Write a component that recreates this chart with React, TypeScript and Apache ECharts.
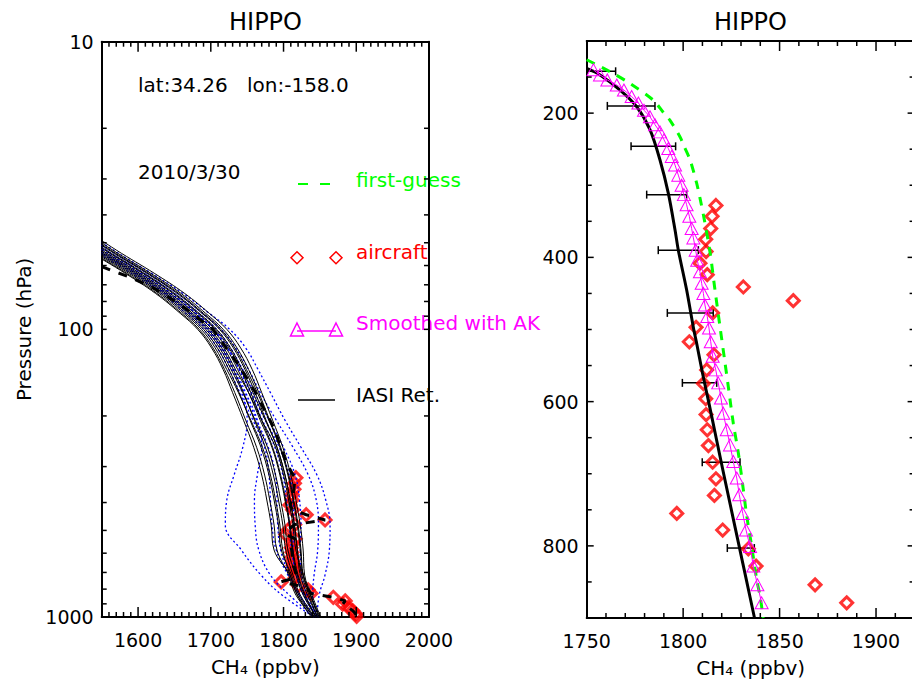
import React, { useEffect, useRef } from 'react';
import * as echarts from 'echarts';

const FONT = 'DejaVu Sans';

// ---------- Left panel: pressure levels for the profile bundle ----------
const levelsL = [45, 53, 64, 75, 88, 100, 116, 138, 166, 207, 257, 321, 392, 479, 585, 715, 839, 1000];

// IASI retrieved profiles (thin black solid)
const iasi01 = [1518, 1560, 1613, 1654, 1688, 1712, 1731, 1747, 1761, 1776, 1791, 1802, 1809, 1815, 1819, 1825, 1835, 1846];
const iasi02 = [1512, 1554, 1607, 1648, 1682, 1706, 1725, 1741, 1755, 1770, 1785, 1796, 1803, 1809, 1813, 1820, 1830, 1844];
const iasi03 = [1502, 1544, 1597, 1638, 1672, 1696, 1715, 1731, 1745, 1760, 1775, 1786, 1793, 1799, 1803, 1813, 1823, 1843];
const iasi04 = [1496, 1538, 1591, 1632, 1666, 1690, 1709, 1725, 1739, 1754, 1769, 1780, 1787, 1793, 1797, 1811, 1821, 1842];
const iasi05 = [1490, 1532, 1585, 1626, 1660, 1684, 1703, 1719, 1733, 1748, 1763, 1774, 1781, 1787, 1791, 1807, 1817, 1840];
const iasi06 = [1508, 1550, 1603, 1644, 1678, 1702, 1721, 1737, 1752, 1768, 1784, 1795, 1802, 1808, 1812, 1819, 1829, 1845];
const iasi07 = [1523, 1565, 1618, 1659, 1693, 1717, 1736, 1752, 1766, 1781, 1796, 1807, 1814, 1820, 1824, 1827, 1837, 1848];
const iasi08 = [1505, 1547, 1600, 1641, 1675, 1699, 1718, 1734, 1752, 1770, 1789, 1800, 1807, 1813, 1817, 1827, 1837, 1850];
const iasi09 = [1499, 1541, 1594, 1635, 1669, 1693, 1712, 1728, 1744, 1761, 1778, 1789, 1796, 1802, 1806, 1817, 1827, 1845];
const iasi10 = [1514, 1556, 1609, 1650, 1684, 1708, 1727, 1743, 1758, 1775, 1791, 1802, 1809, 1815, 1819, 1823, 1833, 1847];
const iasi11 = [1493, 1535, 1588, 1629, 1663, 1687, 1706, 1722, 1738, 1755, 1771, 1782, 1789, 1795, 1799, 1809, 1819, 1838];
const iasi12 = [1520, 1562, 1615, 1656, 1690, 1714, 1733, 1749, 1764, 1780, 1795, 1806, 1813, 1819, 1823, 1827, 1837, 1849];
const iasi13 = [1488, 1530, 1583, 1624, 1658, 1682, 1701, 1717, 1730, 1745, 1759, 1770, 1777, 1783, 1787, 1809, 1819, 1842];
const iasi14 = [1528, 1570, 1623, 1664, 1698, 1722, 1741, 1757, 1770, 1785, 1799, 1810, 1817, 1823, 1827, 1829, 1839, 1851];

// first-guess profiles (blue dotted)
const fg01 = [1500, 1542, 1595, 1636, 1670, 1694, 1713, 1729, 1743, 1750, 1744, 1732, 1722, 1720, 1742, 1769, 1798, 1842];
const fg02 = [1504, 1546, 1599, 1640, 1674, 1698, 1717, 1733, 1748, 1764, 1770, 1764, 1760, 1761, 1766, 1782, 1808, 1842];
const fg03 = [1496, 1538, 1591, 1632, 1666, 1690, 1709, 1725, 1740, 1758, 1774, 1780, 1782, 1784, 1790, 1806, 1822, 1844];
const fg04 = [1510, 1552, 1605, 1646, 1680, 1704, 1723, 1739, 1754, 1771, 1788, 1799, 1804, 1808, 1811, 1818, 1828, 1845];
const fg05 = [1514, 1556, 1609, 1650, 1684, 1708, 1727, 1744, 1760, 1780, 1800, 1816, 1822, 1824, 1823, 1825, 1832, 1846];
const fg06 = [1518, 1560, 1613, 1654, 1689, 1714, 1734, 1752, 1768, 1790, 1813, 1834, 1845, 1848, 1847, 1842, 1840, 1846];
const fg07 = [1524, 1566, 1619, 1662, 1698, 1726, 1748, 1765, 1782, 1802, 1824, 1846, 1858, 1864, 1863, 1857, 1849, 1846];
const fg08 = [1502, 1544, 1597, 1638, 1672, 1696, 1715, 1731, 1746, 1763, 1779, 1789, 1791, 1792, 1796, 1808, 1822, 1840];
const fg09 = [1508, 1550, 1603, 1644, 1679, 1703, 1723, 1740, 1756, 1775, 1794, 1808, 1813, 1814, 1813, 1818, 1828, 1848];

// a-priori upper part of the thick dashed reference profile
const dashP = [60.5, 63, 66, 72, 82, 100, 135, 165, 218, 292, 320];
const dashV = [1550, 1568, 1590, 1622, 1658, 1703, 1740, 1761, 1786, 1804, 1813];

// aircraft (HIPPO) CH4
const airP = [328, 343, 360, 375, 392, 408, 424, 441, 460, 477, 497, 517, 535, 556, 575, 596, 618, 639, 661, 684, 707, 730, 755, 778, 804, 828, 854, 879, 903, 925, 950, 975, 995];
const airV = [1817, 1815, 1814.3, 1811.7, 1811.9, 1808.7, 1812.5, 1831.2, 1857.1, 1815.3, 1806.7, 1803.2, 1816, 1812.2, 1810.5, 1811.7, 1811.9, 1812.5, 1813.1, 1815.3, 1817, 1816.2, 1796.7, 1820.5, 1833.8, 1837.8, 1868.4, 1884.8, 1881.3, 1889, 1895, 1899, 1900.5];

// ---------- Right panel ----------
const fgP = [126, 145, 159, 182, 200, 210, 233, 246, 265, 297, 320, 348, 394, 445, 496, 546, 579, 630, 671, 722, 759, 800, 846, 870, 900];
const fgV = [1750, 1763.8, 1772.5, 1784.5, 1790, 1793.2, 1798.4, 1800.5, 1803.6, 1807, 1808.9, 1811, 1814, 1816.5, 1819.1, 1821.7, 1823.4, 1826, 1828.6, 1831.2, 1833, 1835.5, 1838.1, 1839.9, 1841.5];

const retP = [138, 147, 168, 191, 223, 265, 311, 362, 390, 445, 500, 519, 560, 600, 650, 700, 750, 800, 850, 900];
const retV = [1750, 1756.9, 1767.3, 1775.9, 1782.8, 1788, 1792.3, 1795.8, 1797.5, 1801.8, 1805.5, 1807, 1810, 1813.2, 1817.1, 1821, 1825, 1829, 1833, 1837];

const akP = [140, 147, 154, 161, 168, 177, 186, 196, 205, 216, 226, 237, 249, 260, 272, 286, 300, 313, 327, 343, 360, 373, 390, 404, 420, 436, 450, 466, 482, 498, 517, 537, 556, 574, 595, 616, 639, 660, 683, 706, 729, 755, 778, 801, 828, 854, 879];
const akV = [1753.5, 1756.9, 1760.7, 1765.6, 1769.3, 1773.3, 1776.8, 1779.7, 1782.8, 1785.4, 1788, 1790.1, 1792.3, 1794.1, 1795.8, 1797.5, 1799.2, 1800.4, 1801.8, 1803.2, 1804.4, 1805.3, 1806.5, 1807.3, 1808.7, 1809.6, 1810.5, 1811.3, 1812.5, 1813.4, 1814.3, 1815.3, 1816.9, 1818.2, 1819.6, 1820.8, 1822.6, 1824.3, 1826, 1827.8, 1829.1, 1830.9, 1832.6, 1834.7, 1836.4, 1838.5, 1840.7];

const errP = [142, 190, 246, 313, 390, 477, 574, 684, 803];
const errLo = [1735, 1760.7, 1773, 1781.1, 1787.1, 1791.8, 1799.6, 1809.9, 1822.9];
const errHi = [1765, 1785.4, 1796.1, 1801.8, 1807.9, 1815.6, 1817.4, 1829.5, 1836.9];

// axis ranges
const L_XMIN = 1550, L_XMAX = 2000, L_YMIN = 10, L_YMAX = 1000;
const R_XMIN = 1750, R_XMAX = 1920, R_YMIN = 100, R_YMAX = 900;

const pairs = (v: number[], p: number[]) => v.map((x, i) => [x, p[i]]);

function buildTicks() {
  const left: number[][] = [];
  for (let v = L_XMIN + 10; v < L_XMAX; v += 10) {
    const len = v % 100 === 0 ? 10 : 5;
    left.push([v, L_YMAX, len, 0]);
    left.push([v, L_YMIN, len, 1]);
  }
  for (const dec of [10, 100]) {
    for (let k = 1; k <= 9; k++) {
      const v = dec * k;
      if (v === 10) continue;
      left.push([L_XMIN, v, 5, 2]);
      left.push([L_XMAX, v, 5, 3]);
    }
  }
  const right: number[][] = [];
  for (let v = R_XMIN + 10; v <= R_XMAX; v += 10) {
    const len = v % 50 === 0 ? 10 : 5;
    right.push([v, R_YMAX, len, 0]);
    right.push([v, R_YMIN, len, 1]);
  }
  for (let v = R_YMIN + 50; v < R_YMAX; v += 50) {
    const len = v % 200 === 0 ? 7 : 5;
    right.push([R_XMIN, v, len, 2]);
    right.push([R_XMAX, v, len, 3]);
  }
  return { left, right };
}

function tickRender(_params: any, api: any) {
  const pt = api.coord([api.value(0), api.value(1)]);
  const len = api.value(2);
  const dir = api.value(3);
  let dx = 0, dy = 0;
  if (dir === 0) dy = -len;
  else if (dir === 1) dy = len;
  else if (dir === 2) dx = len;
  else dx = -len;
  return {
    type: 'line',
    shape: { x1: pt[0], y1: pt[1], x2: pt[0] + dx, y2: pt[1] + dy },
    style: { stroke: '#000', lineWidth: 1.5 },
  };
}

function errRender(_params: any, api: any) {
  const p = api.value(2);
  const a = api.coord([api.value(0), p]);
  const b = api.coord([api.value(1), p]);
  const h = 4;
  const st = { stroke: '#000', lineWidth: 1.5 };
  return {
    type: 'group',
    children: [
      { type: 'line', shape: { x1: a[0], y1: a[1], x2: b[0], y2: b[1] }, style: st },
      { type: 'line', shape: { x1: a[0], y1: a[1] - h, x2: a[0], y2: a[1] + h }, style: st },
      { type: 'line', shape: { x1: b[0], y1: b[1] - h, x2: b[0], y2: b[1] + h }, style: st },
    ],
  };
}

export default function App() {
  const ref = useRef<HTMLDivElement>(null);
  useEffect(() => {
    const chart = echarts.init(ref.current!, null, { renderer: 'svg' });
    const ticks = buildTicks();
    const axisLine = { show: true, onZero: false, lineStyle: { color: '#000', width: 2 } };
    const lbl = { color: '#000', fontSize: 19, fontFamily: FONT };
    const nameStyle = { color: '#000', fontSize: 20, fontFamily: FONT };

    const iasiSets = [iasi01, iasi02, iasi03, iasi04, iasi05, iasi06, iasi07, iasi08, iasi09, iasi10, iasi11, iasi12, iasi13, iasi14];
    const fgSets = [fg01, fg02, fg03, fg04, fg05, fg06, fg07, fg08, fg09];

    const series: any[] = [];
    fgSets.forEach((arr) => {
      series.push({
        type: 'line', xAxisIndex: 0, yAxisIndex: 0, data: pairs(arr, levelsL),
        showSymbol: false, smooth: 0.4, lineStyle: { color: '#0000ff', width: 1.3, type: [2, 2.5] },
        silent: true,
      });
    });
    iasiSets.forEach((arr) => {
      series.push({
        type: 'line', xAxisIndex: 0, yAxisIndex: 0, data: pairs(arr, levelsL),
        showSymbol: false, smooth: 0.4, lineStyle: { color: '#000', width: 1 }, silent: true,
      });
    });
    series.push({
      type: 'scatter', xAxisIndex: 0, yAxisIndex: 0, data: pairs(airV, airP),
      symbol: 'diamond', symbolSize: 12,
      itemStyle: { color: 'rgba(0,0,0,0)', borderColor: '#ff0000', borderWidth: 3 }, silent: true,
    });
    series.push({
      type: 'line', xAxisIndex: 0, yAxisIndex: 0,
      data: pairs(dashV, dashP).concat(pairs(airV, airP)),
      showSymbol: false, lineStyle: { color: '#000', width: 3, type: [9, 9] }, silent: true,
    });
    series.push({
      type: 'custom', xAxisIndex: 0, yAxisIndex: 0, data: ticks.left, renderItem: tickRender,
      clip: false, silent: true, z: 10,
    });

    // right panel
    series.push({
      type: 'line', xAxisIndex: 2, yAxisIndex: 2, data: pairs(fgV, fgP), showSymbol: false,
      smooth: 0.3, lineStyle: { color: '#00ff00', width: 3, type: [9, 8] }, silent: true,
    });
    series.push({
      type: 'line', xAxisIndex: 2, yAxisIndex: 2, data: pairs(retV, retP), showSymbol: false,
      smooth: 0.3, lineStyle: { color: '#000', width: 3 }, silent: true,
    });
    series.push({
      type: 'line', xAxisIndex: 2, yAxisIndex: 2, data: pairs(akV, akP),
      symbol: 'triangle', symbolSize: [13, 12], showSymbol: true,
      itemStyle: { color: 'rgba(0,0,0,0)', borderColor: '#ff00ff', borderWidth: 1 },
      lineStyle: { color: '#ff00ff', width: 1 }, silent: true,
    });
    series.push({
      type: 'custom', xAxisIndex: 2, yAxisIndex: 2,
      data: errLo.map((lo, i) => [lo, errHi[i], errP[i]]),
      encode: { x: [0, 1], y: 2 }, renderItem: errRender, clip: true, silent: true,
    });
    series.push({
      type: 'scatter', xAxisIndex: 2, yAxisIndex: 2, data: pairs(airV, airP),
      symbol: 'diamond', symbolSize: 12,
      itemStyle: { color: 'rgba(0,0,0,0)', borderColor: '#ff0000', borderWidth: 3 }, silent: true,
    });
    series.push({
      type: 'custom', xAxisIndex: 2, yAxisIndex: 2, data: ticks.right, renderItem: tickRender,
      clip: false, silent: true, z: 10,
    });

    const txt = (text: string, x: number, y: number, color: string, size = 20, align = 'left') => ({
      type: 'text', x, y, silent: true,
      style: { text, fill: color, fontSize: size, fontFamily: FONT, align, verticalAlign: 'middle' },
    });
    const diamond = (cx: number, cy: number) => ({
      type: 'polygon', silent: true,
      shape: { points: [[cx, cy - 6], [cx + 6, cy], [cx, cy + 6], [cx - 6, cy]] },
      style: { fill: 'none', stroke: '#ff0000', lineWidth: 1.5 },
    });
    const tri = (cx: number) => ({
      type: 'polygon', silent: true,
      shape: { points: [[cx, 323], [cx + 6.5, 336], [cx - 6.5, 336]] },
      style: { fill: 'none', stroke: '#ff00ff', lineWidth: 1.5 },
    });

    const graphic = [
      txt('HIPPO', 265.5, 22, '#000', 24, 'center'),
      txt('HIPPO', 750.5, 22, '#000', 24, 'center'),
      txt('lat:34.26', 138, 85, '#000'),
      txt('lon:-158.0', 247, 85, '#000'),
      txt('2010/3/30', 138, 172, '#000'),
      { type: 'line', silent: true, shape: { x1: 298, y1: 184, x2: 308, y2: 184 }, style: { stroke: '#00ff00', lineWidth: 2 } },
      { type: 'line', silent: true, shape: { x1: 320, y1: 184, x2: 330, y2: 184 }, style: { stroke: '#00ff00', lineWidth: 2 } },
      txt('first-guess', 356, 180, '#00ff00'),
      diamond(297, 257.7),
      diamond(336, 257.7),
      txt('aircraft', 356, 252, '#ff0000'),
      { type: 'line', silent: true, shape: { x1: 297, y1: 331, x2: 336, y2: 331 }, style: { stroke: '#ff00ff', lineWidth: 1.5 } },
      tri(297),
      tri(336),
      txt('Smoothed with AK', 356, 323, '#ff00ff'),
      { type: 'line', silent: true, shape: { x1: 298, y1: 400, x2: 335, y2: 400 }, style: { stroke: '#000', lineWidth: 1.5 } },
      txt('IASI Ret.', 356, 395, '#000'),
    ];

    const option: any = {
      animation: false,
      backgroundColor: '#fff',
      grid: [
        { left: 101.7, top: 41.7, width: 327.3, height: 575.3, containLabel: false, outerBoundsMode: 'none' },
        { left: 586.7, top: 41, width: 327.9, height: 577, containLabel: false, outerBoundsMode: 'none' },
      ],
      xAxis: [
        {
          gridIndex: 0, type: 'value', position: 'bottom', min: L_XMIN, max: L_XMAX, interval: 50,
          axisLine, axisTick: { show: false }, splitLine: { show: false },
          axisLabel: { ...lbl, margin: 13, formatter: (v: number) => (v % 100 === 0 ? String(v) : '') },
          name: 'CH₄ (ppbv)', nameLocation: 'middle', nameGap: 40, nameTextStyle: nameStyle,
        },
        {
          gridIndex: 0, type: 'value', position: 'top', min: L_XMIN, max: L_XMAX, interval: 50,
          axisLine, axisTick: { show: false }, splitLine: { show: false }, axisLabel: { show: false },
        },
        {
          gridIndex: 1, type: 'value', position: 'bottom', min: R_XMIN, max: R_XMAX, interval: 50,
          axisLine, axisTick: { show: false }, splitLine: { show: false },
          axisLabel: { ...lbl, margin: 13, showMaxLabel: false, formatter: (v: number) => (v % 50 === 0 ? String(v) : '') },
          name: 'CH₄ (ppbv)', nameLocation: 'middle', nameGap: 40, nameTextStyle: nameStyle,
        },
        {
          gridIndex: 1, type: 'value', position: 'top', min: R_XMIN, max: R_XMAX, interval: 50,
          axisLine, axisTick: { show: false }, splitLine: { show: false }, axisLabel: { show: false },
        },
      ],
      yAxis: [
        {
          gridIndex: 0, type: 'log', logBase: 10, min: L_YMIN, max: L_YMAX, inverse: true, position: 'left',
          axisLine, axisTick: { show: false }, splitLine: { show: false }, minorSplitLine: { show: false },
          axisLabel: { ...lbl, margin: 8, formatter: (v: number) => String(Math.round(v)) },
          name: 'Pressure (hPa)', nameLocation: 'middle', nameRotate: 90, nameGap: 68, nameTextStyle: nameStyle,
        },
        {
          gridIndex: 0, type: 'log', logBase: 10, min: L_YMIN, max: L_YMAX, inverse: true, position: 'right',
          axisLine, axisTick: { show: false }, splitLine: { show: false }, axisLabel: { show: false },
        },
        {
          gridIndex: 1, type: 'value', min: R_YMIN, max: R_YMAX, interval: 100, inverse: true, position: 'left',
          axisLine, axisTick: { show: false }, splitLine: { show: false },
          axisLabel: { ...lbl, margin: 8, formatter: (v: number) => (v % 200 === 0 ? String(v) : '') },
        },
        {
          gridIndex: 1, type: 'value', min: R_YMIN, max: R_YMAX, interval: 100, inverse: true, position: 'right',
          axisLine, axisTick: { show: false }, splitLine: { show: false }, axisLabel: { show: false },
        },
      ],
      series,
      graphic,
    };
    chart.setOption(option);
    return () => chart.dispose();
  }, []);
  return (
    <div
      ref={ref}
      style={{ position: 'fixed', left: 0, top: 0, width: 912, height: 679, background: '#fff' }}
    />
  );
}
